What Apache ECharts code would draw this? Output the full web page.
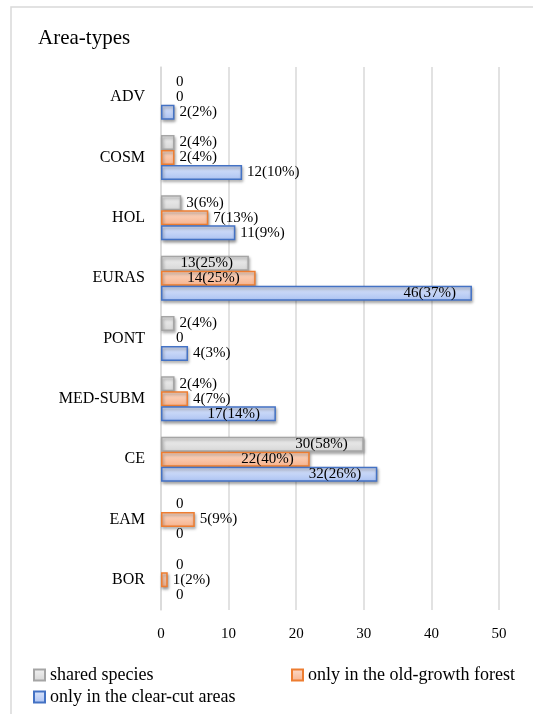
<!DOCTYPE html>
<html>
<head>
<meta charset="utf-8">
<script src="https://cdn.jsdelivr.net/npm/echarts@6/dist/echarts.min.js"></script>
<style>
  html, body { margin: 0; padding: 0; background: #fff; }
  #main { width: 533px; height: 714px; }
</style>
</head>
<body>
<div id="main"></div>
<script>
// categories, top to bottom
var categories = ['ADV', 'COSM', 'HOL', 'EURAS', 'PONT', 'MED-SUBM', 'CE', 'EAM', 'BOR'];

// species counts and their percentages (null = no percent shown)
var sharedVals = [0, 2, 3, 13, 2, 2, 30, 0, 0];
var sharedPct  = [null, 4, 6, 25, 4, 4, 58, null, null];
var oldVals    = [0, 2, 7, 14, 0, 4, 22, 5, 1];
var oldPct     = [null, 4, 13, 25, null, 7, 40, 9, 2];
var clearVals  = [2, 12, 11, 46, 4, 17, 32, 0, 0];
var clearPct   = [2, 10, 9, 37, 3, 14, 26, null, null];

var xTicks = [0, 10, 20, 30, 40, 50];

var FONT = 'Liberation Serif';

function grad(top, bottom) {
    return new echarts.graphic.LinearGradient(0, 0, 0, 1, [
        {offset: 0, color: top},
        {offset: 1, color: bottom}
    ]);
}

function makeData(vals, pcts) {
    return vals.map(function (v, i) {
        var item = {value: v, pct: pcts[i]};
        if (v === 0) {
            // empty bar: keep only the "0" label
            item.label = {position: 'right', distance: 15};
            item.itemStyle = {color: 'rgba(0,0,0,0)', borderWidth: 0, shadowColor: 'rgba(0,0,0,0)'};
        } else if (v >= 13) {
            item.label = {position: 'insideRight', distance: 16};
        } else {
            item.label = {position: 'right', distance: 5};
        }
        return item;
    });
}

function makeSeries(name, vals, pcts, fillTop, fillBottom, border) {
    return {
        name: name,
        type: 'bar',
        barWidth: 15,
        barGap: '0%',
        data: makeData(vals, pcts),
        itemStyle: {
            color: grad(fillTop, fillBottom),
            borderColor: border,
            borderWidth: 1.5,
            shadowColor: 'rgba(0,0,0,0.35)',
            shadowBlur: 3,
            shadowOffsetX: 1,
            shadowOffsetY: 2
        },
        label: {
            show: true,
            fontFamily: FONT,
            fontSize: 15,
            color: '#000',
            formatter: function (p) {
                if (p.data.value === 0 || p.data.pct == null) return String(p.data.value);
                return p.data.value + '(' + p.data.pct + '%)';
            }
        }
    };
}

function legendAt(name, left, top) {
    return {
        data: [name],
        left: left, top: top,
        icon: 'rect', itemWidth: 11, itemHeight: 11,
        textStyle: {fontFamily: 'Liberation Serif, serif', fontSize: 18, color: '#000'}
    };
}

var myChart = echarts.init(document.getElementById('main'));
myChart.setOption({
    animation: false,
    backgroundColor: '#fff',
    textStyle: {fontFamily: FONT},
    title: {
        text: 'Area-types',
        left: 33,
        top: 23,
        textStyle: {fontFamily: FONT, fontSize: 21, fontWeight: 'normal', color: '#000'}
    },
    graphic: [{
        type: 'rect',
        shape: {x: 11, y: 7, width: 540, height: 720},
        style: {fill: 'none', stroke: '#d9d9d9', lineWidth: 1.5},
        silent: true
    }],
    grid: {left: 161, right: 34, top: 67, bottom: 104},
    xAxis: {
        type: 'value',
        min: xTicks[0],
        max: xTicks[xTicks.length - 1],
        interval: 10,
        axisLine: {show: false},
        axisTick: {show: false},
        splitLine: {lineStyle: {color: '#d9d9d9', width: 1.5}},
        axisLabel: {fontFamily: FONT, fontSize: 15, color: '#000', margin: 17}
    },
    yAxis: {
        type: 'category',
        inverse: true,
        data: categories,
        axisLine: {lineStyle: {color: '#d9d9d9', width: 1.5}},
        axisTick: {show: false},
        axisLabel: {fontFamily: FONT, fontSize: 16, color: '#000', margin: 16}
    },
    legend: [
        legendAt('shared species', 28, 661),
        legendAt('only in the old-growth forest', 286, 661),
        legendAt('only in the clear-cut areas', 28, 683)
    ],
    series: [
        makeSeries('shared species', sharedVals, sharedPct, '#f2f2f2', '#d6d6d6', '#a5a5a5'),
        makeSeries('only in the old-growth forest', oldVals, oldPct, '#fcdccb', '#f7b28c', '#ed7d31'),
        makeSeries('only in the clear-cut areas', clearVals, clearPct, '#dde6fb', '#abc2f2', '#4472c4')
    ]
});
</script>
</body>
</html>
